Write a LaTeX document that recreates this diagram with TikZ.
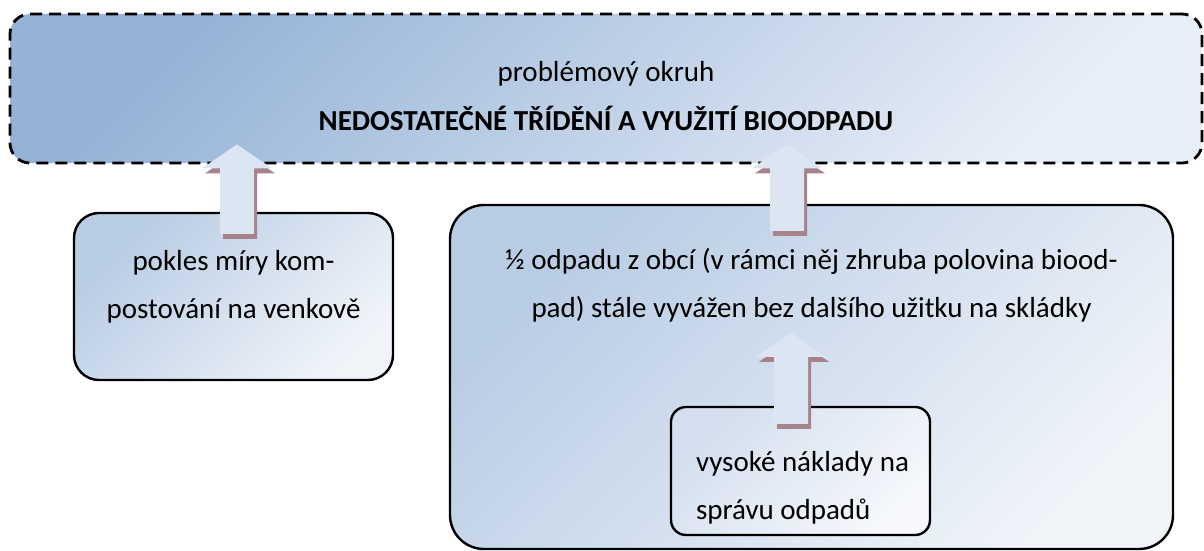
\documentclass[tikz,border=0pt]{standalone}
\usepackage{fontspec}
\setmainfont{Carlito}
\usetikzlibrary{calc}
\definecolor{topA}{HTML}{95B3D7}
\definecolor{topB}{HTML}{E8EEF7}
\definecolor{boxA}{HTML}{B8CCE4}
\definecolor{boxB}{HTML}{F0F4F9}
\definecolor{innA}{HTML}{D3DFEE}
\definecolor{innB}{HTML}{F6F8FC}
\definecolor{arrowfill}{HTML}{DCE6F2}
\definecolor{arrowshade}{HTML}{A6838A}
\tikzset{
  topbox/.style={draw=black, line width=2.8pt, dash pattern=on 12pt off 7pt,
    rounded corners=20pt, top color=topA, bottom color=topB, shading angle=45,
    inner sep=0pt, minimum width=1192pt, minimum height=149pt},
  roundbox/.style={draw=black, line width=2.4pt, top color=boxA, bottom color=boxB,
    shading angle=45, inner sep=0pt},
  innerbox/.style={draw=black, line width=2.4pt, top color=innA, bottom color=innB,
    shading angle=45, inner sep=0pt, rounded corners=15pt,
    minimum width=259pt, minimum height=128pt},
  bodytext/.style={font=\fontsize{29pt}{48pt}\selectfont, align=center, inner sep=0pt},
  toptext/.style={font=\fontsize{29pt}{49pt}\selectfont, align=center, inner sep=0pt},
  arrowbody/.style={fill=arrowfill},
  arrowshadow/.style={fill=arrowshade},
}
\begin{document}
\begin{tikzpicture}[x=1pt,y=-1pt]
\useasboundingbox (0,0) rectangle (1204,551);
% boxes
\node[topbox] (top) at (606,88.5) {};
\node[roundbox, rounded corners=25pt, minimum width=319pt, minimum height=167pt] (left) at (233.5,296.5) {};
\node[roundbox, rounded corners=34pt, minimum width=723pt, minimum height=344pt] (big) at (811.5,377) {};
\node[innerbox] (inner) at (800.5,471) {};
% texts
\node[toptext] (toptxt) at ($(top.center)+(0,8)$) {problémový okruh\\\textbf{NEDOSTATEČNÉ TŘÍDĚNÍ A VYUŽITÍ BIOODPADU}};
\node[bodytext] (lefttxt) at ($(left.center)+(0,-10)$) {pokles míry kom-\\postování na venkově};
\node[bodytext] (bigtxt) at ($(big.north)+(0,81)$) {½ odpadu z obcí (v rámci něj zhruba polovina biood-\\pad) stále vyvážen bez dalšího užitku na skládky};
\node[bodytext, align=left, anchor=west] (innertxt) at ($(inner.west)+(26,17)$) {vysoké náklady na\\správu odpadů};
% arrow end points
\coordinate (a1b) at ($(left.north)+(3.5,22)$);
\coordinate (a1t) at ($(a1b |- top.south)+(0,-20)$);
\coordinate (a2b) at ($(big.north)+(-24.5,27)$);
\coordinate (a2t) at ($(a2b |- top.south)+(0,-20)$);
\coordinate (a3b) at ($(inner.north)+(-9.5,18)$);
\coordinate (a3t) at ($(inner.north -| a3b)+(0,-73)$);
% block arrows
\foreach \b/\t in {a1b/a1t, a2b/a2t, a3b/a3t}{
  \foreach \st/\dx/\dy in {arrowshadow/3/-5, arrowbody/0/0}{
    \path[\st] let \p1=(\b), \p2=(\t) in
      ({\x1-17pt+\dx pt},{\y1+\dy pt}) -- ({\x1+17pt+\dx pt},{\y1+\dy pt})
      -- ({\x1+17pt+\dx pt},{\y2-24pt+\dy pt})
      -- ({\x1+35pt+\dx pt},{\y2-24pt+\dy pt}) -- ({\x2+\dx pt},{\y2+\dy pt})
      -- ({\x1-35pt+\dx pt},{\y2-24pt+\dy pt})
      -- ({\x1-17pt+\dx pt},{\y2-24pt+\dy pt}) -- cycle;
  }
}
\end{tikzpicture}
\end{document}
